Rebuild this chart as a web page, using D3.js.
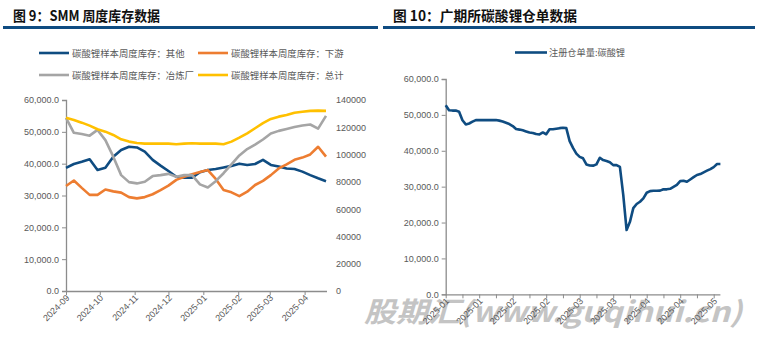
<!DOCTYPE html>
<html>
<head>
<meta charset="utf-8">
<script src="https://cdn.jsdelivr.net/npm/d3@7"></script>
<style>
  body { margin: 0; background: #fff; }
  svg { display: block; }
  .tick-text { font-family: "Liberation Sans", Arial, sans-serif; font-size: 9px; fill: #595959; }
  .cjk { font-family: "Noto Sans CJK SC", sans-serif; }
</style>
</head>
<body>
<svg id="chart" width="764" height="341"></svg>
<script>
// ---- left chart: SMM weekly inventory ----
var weekDates = ["2024-09-05","2024-09-12","2024-09-19","2024-09-26","2024-10-03","2024-10-10","2024-10-17",
  "2024-10-24","2024-10-31","2024-11-07","2024-11-14","2024-11-21","2024-11-28","2024-12-05","2024-12-12",
  "2024-12-19","2024-12-26","2025-01-02","2025-01-09","2025-01-16","2025-01-23","2025-01-30","2025-02-06",
  "2025-02-13","2025-02-20","2025-02-27","2025-03-06","2025-03-13","2025-03-20","2025-03-27","2025-04-03",
  "2025-04-10","2025-04-17","2025-04-24"];
var other = [38700,39900,40600,41400,38000,38700,42200,44300,45300,45100,43800,41200,39400,37700,35900,35600,
  35600,37300,38000,38300,38800,39300,40000,39600,39900,41200,39600,39100,38500,38300,37500,36400,35400,34500];
var downstream = [33000,34700,32400,30200,30200,31900,31300,30900,29500,29100,29500,30400,31700,33100,34900,35900,
  36700,37400,38000,35200,31700,31000,29800,31200,33300,34600,36400,38500,39800,41200,41900,42900,45300,42200];
var smelter = [54400,49700,49300,48800,50600,47400,42200,36400,34200,33800,34300,36100,36400,36800,35900,36400,
  36400,33500,32500,34500,37000,39800,42600,44600,46000,47600,49500,50300,50900,51500,52000,52300,51000,55000];
var total = [127000,125400,123400,121200,118600,116800,114400,111200,109500,108500,108000,108000,108000,108000,
  107600,108000,108300,108000,108000,108000,107600,109500,112400,115600,119300,123000,126100,127800,129000,
  130700,131400,132000,132200,132000];
var leftTickDates = ["2024-09-05","2024-10-05","2024-11-05","2024-12-05","2025-01-05","2025-02-05","2025-03-05","2025-04-05"];
var leftTickLabels = ["2024-09","2024-10","2024-11","2024-12","2025-01","2025-02","2025-03","2025-04"];
var leftYTicks = [0,10000,20000,30000,40000,50000,60000];
var rightYTicks = [0,20000,40000,60000,80000,100000,120000,140000];

// ---- right chart: GFEX lithium carbonate warehouse receipts ----
var receiptDates = ["2025-01-02","2025-01-03","2025-01-06","2025-01-07","2025-01-08","2025-01-09","2025-01-10",
  "2025-01-13","2025-01-14","2025-01-15","2025-01-16","2025-01-17","2025-01-20","2025-01-21","2025-01-22",
  "2025-01-23","2025-01-24","2025-01-27","2025-02-05","2025-02-06","2025-02-07","2025-02-10","2025-02-11",
  "2025-02-12","2025-02-13","2025-02-14","2025-02-17","2025-02-18","2025-02-19","2025-02-20","2025-02-21",
  "2025-02-24","2025-02-25","2025-02-26","2025-02-27","2025-02-28","2025-03-03","2025-03-04","2025-03-05",
  "2025-03-06","2025-03-07","2025-03-10","2025-03-11","2025-03-12","2025-03-13","2025-03-14","2025-03-17",
  "2025-03-18","2025-03-19","2025-03-20","2025-03-21","2025-03-24","2025-03-25","2025-03-26","2025-03-27",
  "2025-03-28","2025-03-31","2025-04-01","2025-04-02","2025-04-03","2025-04-07","2025-04-08","2025-04-09",
  "2025-04-10","2025-04-11","2025-04-14","2025-04-15","2025-04-16","2025-04-17","2025-04-18","2025-04-21",
  "2025-04-22","2025-04-23","2025-04-24","2025-04-25","2025-04-28","2025-04-29","2025-04-30","2025-05-06",
  "2025-05-07","2025-05-08","2025-05-09","2025-05-12"];
var receipts = [52700,51300,51200,51200,50900,48500,47350,47600,48100,48550,48550,48550,48550,48550,48550,48550,
  48400,48150,47800,47450,46900,46050,45900,45700,45400,45100,44950,44650,44550,45100,44600,46000,46000,46150,
  46300,46400,46300,42700,40800,39200,38300,37900,36200,35900,35850,36200,38050,37400,37150,36800,36000,36000,
  35500,27700,17900,20200,24000,25150,25800,26750,28300,28750,28850,28850,28900,29250,29250,29400,29950,30500,
  31550,31650,31350,32000,32650,33250,33500,34000,34450,34900,35450,36300,36300];
var receiptTickLabels = ["2025-01","2025-01","2025-02","2025-02","2025-03","2025-03","2025-04","2025-04","2025-05"];
var receiptYTicks = [0,10000,20000,30000,40000,50000,60000];

var parse = d3.timeParse("%Y-%m-%d");
var svg = d3.select("#chart");
var axisColor = "#8c8c8c";
var fmt1 = function(v) { return d3.format(",.1f")(v); };

svg.append("rect").attr("width", 764).attr("height", 341).attr("fill", "#fff");

// titles and rules
svg.append("text").attr("class", "cjk").attr("x", 13).attr("y", 20.5)
  .attr("textLength", 147).attr("lengthAdjust", "spacingAndGlyphs")
  .style("font-size", "14px").style("font-weight", "bold").attr("fill", "#111")
  .text("图 9：SMM 周度库存数据");
svg.append("text").attr("class", "cjk").attr("x", 393).attr("y", 20.5)
  .attr("textLength", 184).attr("lengthAdjust", "spacingAndGlyphs")
  .style("font-size", "14px").style("font-weight", "bold").attr("fill", "#111")
  .text("图 10：广期所碳酸锂仓单数据");
svg.append("rect").attr("x", 3).attr("y", 26).attr("width", 375).attr("height", 3).attr("fill", "#0f4c81");
svg.append("rect").attr("x", 383).attr("y", 26).attr("width", 372).attr("height", 3).attr("fill", "#0f4c81");

// watermark (behind right chart)
svg.append("text").attr("x", 364).attr("y", 322)
  .attr("textLength", 378).attr("lengthAdjust", "spacingAndGlyphs")
  .style("font-family", "'Noto Sans CJK SC', sans-serif")
  .style("font-size", "28px").style("font-weight", "bold").style("font-style", "italic")
  .attr("fill", "#c4c4c4")
  .text("股期汇(www.guqihui.cn)");

// ===== left chart =====
var xL = d3.scaleTime().domain([parse(weekDates[0]), parse(weekDates[weekDates.length - 1])]).range([66, 326]);
var yL = d3.scaleLinear().domain([0, 60000]).range([291, 100]);
var yR = d3.scaleLinear().domain([0, 140000]).range([291, 100]);

var gL = svg.append("g");
var yAxisL = d3.axisLeft(yL).tickValues(leftYTicks).tickSize(4).tickFormat(fmt1);
gL.append("g").attr("transform", "translate(66,0)").call(yAxisL);
var yAxisR = d3.axisRight(yR).tickValues(rightYTicks).tickSize(0).tickPadding(9).tickFormat(d3.format("d"));
gL.append("g").attr("class", "raxis").attr("transform", "translate(327,0)").call(yAxisR);
gL.select(".raxis .domain").remove();
var xAxisL = d3.axisBottom(xL).tickValues(leftTickDates.map(parse)).tickSize(4)
  .tickFormat(function(d, i) { return leftTickLabels[i]; });
gL.append("g").attr("class", "xaxis").attr("transform", "translate(0,291)").call(xAxisL);
gL.select(".xaxis .domain").attr("d", "M66,0.5H327");
gL.selectAll(".xaxis .tick text")
  .attr("text-anchor", "end").attr("dx", "-0.3em").attr("dy", "0.2em")
  .attr("transform", "rotate(-45)").attr("x", 0).attr("y", 6);

var series = [
  {vals: other, color: "#0f4c81", scale: yL},
  {vals: downstream, color: "#ed7d31", scale: yL},
  {vals: smelter, color: "#a5a5a5", scale: yL},
  {vals: total, color: "#ffc000", scale: yR}
];
series.forEach(function(s) {
  var line = d3.line()
    .x(function(d, i) { return xL(parse(weekDates[i])); })
    .y(function(d) { return s.scale(d); });
  gL.append("path").datum(s.vals).attr("fill", "none").attr("stroke", s.color)
    .attr("stroke-width", 2.6).attr("stroke-linejoin", "round").attr("d", line);
});

// left legend
var legendItems = [
  {name: "碳酸锂样本周度库存：其他", color: "#0f4c81", x: 39, y: 53},
  {name: "碳酸锂样本周度库存：下游", color: "#ed7d31", x: 198, y: 53},
  {name: "碳酸锂样本周度库存：冶炼厂", color: "#a5a5a5", x: 39, y: 75},
  {name: "碳酸锂样本周度库存：总计", color: "#ffc000", x: 198, y: 75}
];
legendItems.forEach(function(d) {
  svg.append("line").attr("x1", d.x).attr("x2", d.x + 30).attr("y1", d.y).attr("y2", d.y)
    .attr("stroke", d.color).attr("stroke-width", 2.6);
  svg.append("text").attr("class", "cjk").attr("x", d.x + 33).attr("y", d.y + 3.5)
    .style("font-size", "9.4px").attr("fill", "#595959").text(d.name);
});

// ===== right chart =====
var xC = d3.scalePoint().domain(receiptDates).range([445.7, 720.4]);
var yC = d3.scaleLinear().domain([0, 60000]).range([294.3, 79]);
var gR = svg.append("g");
gR.append("g").attr("transform", "translate(445.7,0)")
  .call(d3.axisLeft(yC).tickValues(receiptYTicks).tickSize(4).tickFormat(fmt1));

var minorTicks = receiptDates.filter(function(d, i) { return i % 5 === 0; });
var xAxisC = d3.axisBottom(xC).tickValues(minorTicks).tickSize(4)
  .tickFormat(function(d) {
    var i = receiptDates.indexOf(d);
    return i % 10 === 0 ? receiptTickLabels[i / 10] : "";
  });
gR.append("g").attr("class", "xaxis2").attr("transform", "translate(0,294.3)").call(xAxisC);
gR.select(".xaxis2 .domain").attr("d", "M445.7,0.5H720.4");
gR.selectAll(".xaxis2 .tick text")
  .attr("text-anchor", "end").attr("dx", "-0.3em").attr("dy", "0.2em")
  .attr("transform", "rotate(-45)").attr("x", 0).attr("y", 6);

var lineC = d3.line()
  .x(function(d, i) { return xC(receiptDates[i]); })
  .y(function(d) { return yC(d); });
gR.append("path").datum(receipts).attr("fill", "none").attr("stroke", "#0f4c81")
  .attr("stroke-width", 2.6).attr("stroke-linejoin", "round").attr("d", lineC);

svg.append("line").attr("x1", 515).attr("x2", 547).attr("y1", 52.5).attr("y2", 52.5)
  .attr("stroke", "#0f4c81").attr("stroke-width", 2.6);
svg.append("text").attr("class", "cjk").attr("x", 549).attr("y", 56)
  .style("font-size", "9.2px").attr("fill", "#595959").text("注册仓单量:碳酸锂");

// shared axis styling
svg.selectAll(".domain").attr("stroke", axisColor).attr("stroke-width", 1.3);
svg.selectAll(".tick line").attr("stroke", axisColor);
svg.selectAll(".tick text").attr("class", "tick-text").attr("fill", null);
</script>
</body>
</html>
